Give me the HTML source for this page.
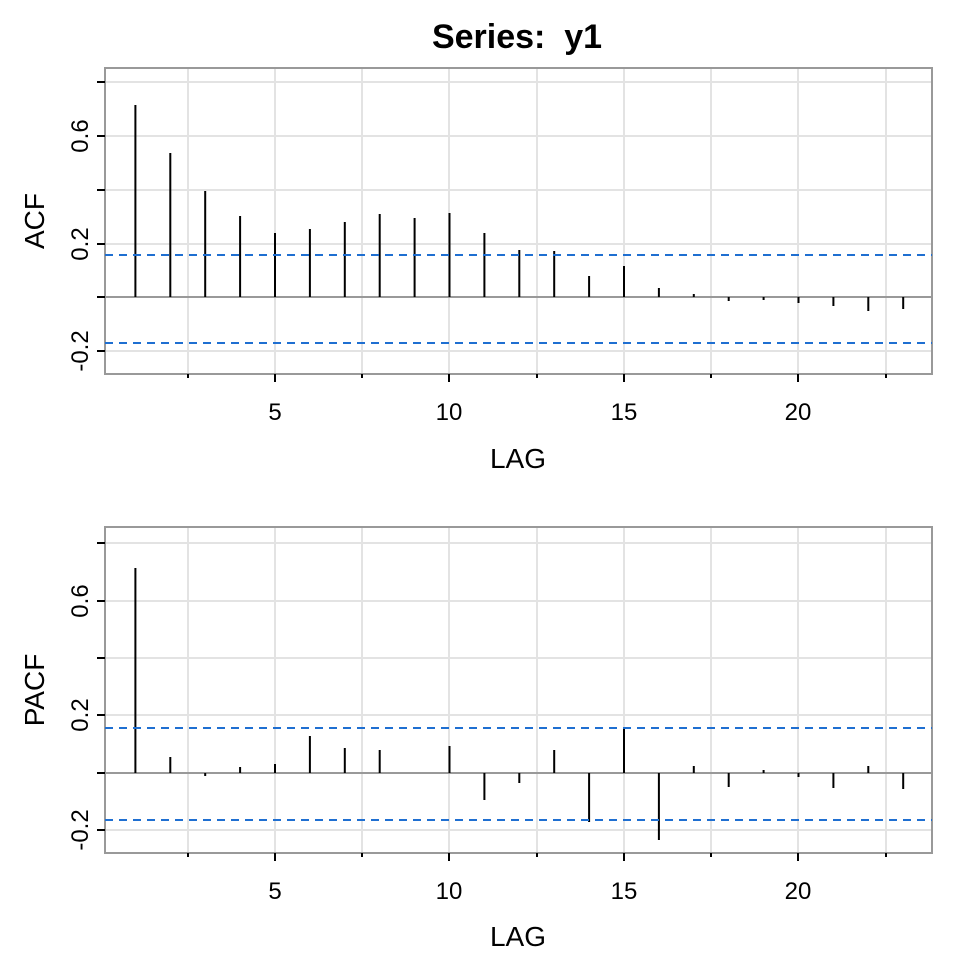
<!DOCTYPE html>
<html><head><style>body{margin:0;background:#fff}svg{display:block}text{font-family:"Liberation Sans",Arial,sans-serif;fill:#000}</style></head><body>
<svg width="960" height="960" viewBox="0 0 960 960" xmlns="http://www.w3.org/2000/svg">
<text x="517" y="48" font-size="34" font-weight="bold" text-anchor="middle">Series:&#160; y1</text>
<g stroke="#e3e3e3" stroke-width="2">
<line x1="105" x2="932" y1="82" y2="82"/><line x1="105" x2="932" y1="136" y2="136"/><line x1="105" x2="932" y1="190" y2="190"/><line x1="105" x2="932" y1="244" y2="244"/><line x1="105" x2="932" y1="351" y2="351"/>
<line x1="188" x2="188" y1="68" y2="374"/><line x1="275" x2="275" y1="68" y2="374"/><line x1="362" x2="362" y1="68" y2="374"/><line x1="449" x2="449" y1="68" y2="374"/><line x1="537" x2="537" y1="68" y2="374"/><line x1="624" x2="624" y1="68" y2="374"/><line x1="711" x2="711" y1="68" y2="374"/><line x1="798" x2="798" y1="68" y2="374"/><line x1="886" x2="886" y1="68" y2="374"/>
<line x1="105" x2="932" y1="543" y2="543"/><line x1="105" x2="932" y1="601" y2="601"/><line x1="105" x2="932" y1="658" y2="658"/><line x1="105" x2="932" y1="715" y2="715"/><line x1="105" x2="932" y1="830" y2="830"/>
<line x1="188" x2="188" y1="527" y2="853"/><line x1="275" x2="275" y1="527" y2="853"/><line x1="362" x2="362" y1="527" y2="853"/><line x1="449" x2="449" y1="527" y2="853"/><line x1="537" x2="537" y1="527" y2="853"/><line x1="624" x2="624" y1="527" y2="853"/><line x1="711" x2="711" y1="527" y2="853"/><line x1="798" x2="798" y1="527" y2="853"/><line x1="886" x2="886" y1="527" y2="853"/>
</g>
<g stroke="#999" stroke-width="2" fill="none">
<rect x="105" y="68" width="827" height="306"/><line x1="105" x2="932" y1="297" y2="297"/>
<rect x="105" y="527" width="827" height="326"/><line x1="105" x2="932" y1="773" y2="773"/>
</g>
<g stroke="#000" stroke-width="2">
<line x1="97" x2="105" y1="82" y2="82"/><line x1="97" x2="105" y1="136" y2="136"/><line x1="97" x2="105" y1="190" y2="190"/><line x1="97" x2="105" y1="244" y2="244"/><line x1="97" x2="105" y1="297" y2="297"/><line x1="97" x2="105" y1="351" y2="351"/>
<line x1="97" x2="105" y1="543" y2="543"/><line x1="97" x2="105" y1="601" y2="601"/><line x1="97" x2="105" y1="658" y2="658"/><line x1="97" x2="105" y1="715" y2="715"/><line x1="97" x2="105" y1="773" y2="773"/><line x1="97" x2="105" y1="830" y2="830"/>
<path d="M188 374v4M275 374v8M362 374v4M449 374v8M537 374v4M624 374v8M711 374v4M798 374v8M886 374v4"/>
<path d="M188 853v4M275 853v8M362 853v4M449 853v8M537 853v4M624 853v8M711 853v4M798 853v8M886 853v4"/>
</g>
<g stroke="#000" stroke-width="2">
<path d="M135.4 297V105M170.3 297V153M205.2 297V191M240.1 297V216M275 297V233M309.9 297V229M344.8 297V222M379.7 297V214M414.6 297V218M449.5 297V213M484.4 297V233M519.3 297V250M554.2 297V251M589.1 297V276M624 297V266M658.9 297V288M693.8 297V294M728.7 297V301M763.6 297V300M798.5 297V303M833.4 297V306M868.3 297V311M903.2 297V309"/>
<path d="M135.4 773V568M170.3 773V757M205.2 773V776M240.1 773V767M275 773V764M309.9 773V736M344.8 773V748M379.7 773V750M449.5 773V746M484.4 773V800M519.3 773V783M554.2 773V750M589.1 773V822M624 773V727M658.9 773V840M693.8 773V766M728.7 773V787M763.6 773V770M798.5 773V777M833.4 773V788M868.3 773V766M903.2 773V789"/>
</g>
<g stroke="#1f6fd1" stroke-width="2" stroke-dasharray="8,6">
<line x1="105" x2="932" y1="255" y2="255"/><line x1="105" x2="932" y1="343" y2="343"/>
<line x1="105" x2="932" y1="728" y2="728"/><line x1="105" x2="932" y1="820" y2="820"/>
</g>
<g font-size="24" text-anchor="middle">
<text x="275" y="420">5</text><text x="449" y="420">10</text><text x="624" y="420">15</text><text x="798" y="420">20</text>
<text x="275" y="899">5</text><text x="449" y="899">10</text><text x="624" y="899">15</text><text x="798" y="899">20</text>
<text transform="translate(88,136) rotate(-90)">0.6</text><text transform="translate(88,244) rotate(-90)">0.2</text><text transform="translate(88,351) rotate(-90)">-0.2</text>
<text transform="translate(88,601) rotate(-90)">0.6</text><text transform="translate(88,715) rotate(-90)">0.2</text><text transform="translate(88,830) rotate(-90)">-0.2</text>
</g>
<g font-size="28" text-anchor="middle">
<text x="518" y="468">LAG</text><text x="518" y="946">LAG</text>
<text transform="translate(44,221) rotate(-90)">ACF</text><text transform="translate(44,690) rotate(-90)">PACF</text>
</g>
</svg>
</body></html>
